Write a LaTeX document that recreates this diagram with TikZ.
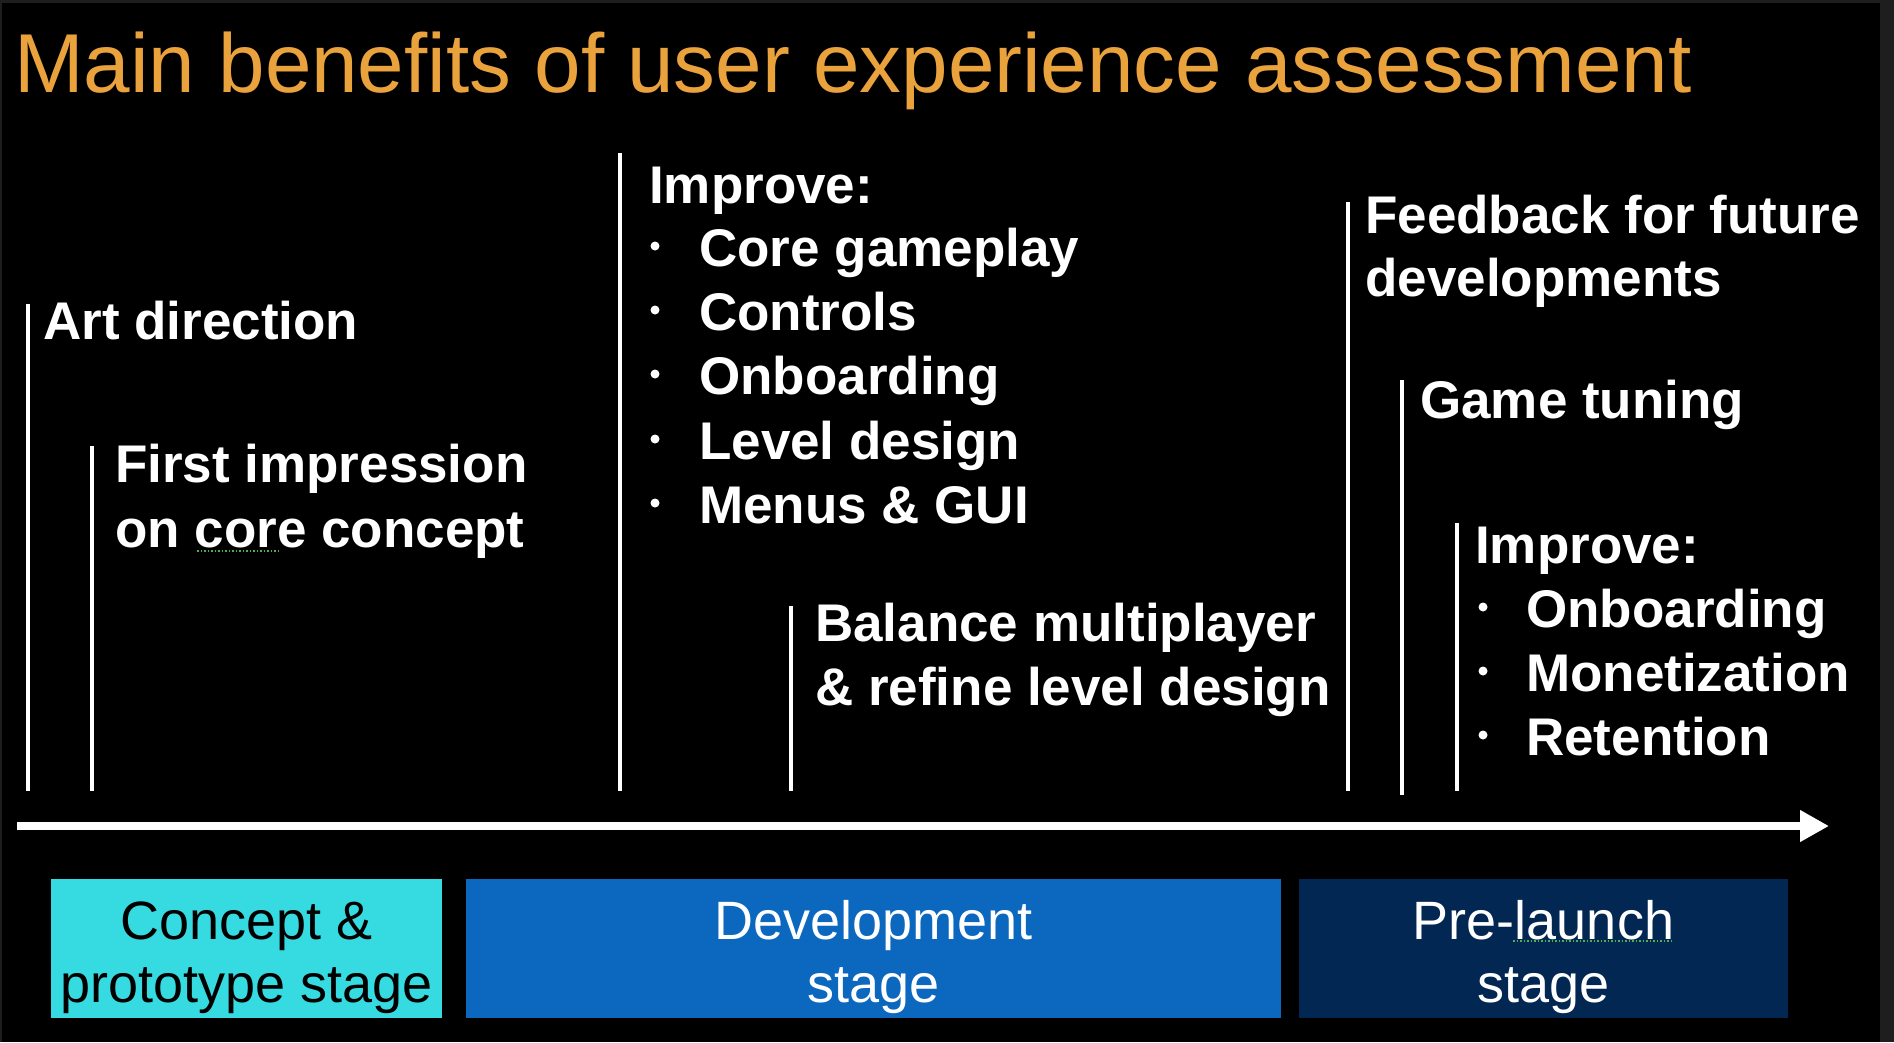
\documentclass[tikz,border=0pt]{standalone}
\usepackage{fontspec}
\setmainfont{Liberation Sans}
\usetikzlibrary{arrows.meta}
\definecolor{titleorange}{HTML}{EAA23D}
\definecolor{stagecyan}{HTML}{36DBE1}
\definecolor{stageblue}{HTML}{0C68BF}
\definecolor{stagenavy}{HTML}{022752}
\definecolor{framegray}{HTML}{1E1E1E}
\definecolor{spellgreen}{HTML}{4CAF50}
\begin{document}
\begin{tikzpicture}[x=1pt,y=-1pt,
  lbl/.style={anchor=base west, inner sep=0pt, text=white, font=\fontsize{53}{64}\selectfont\bfseries},
  bulletdot/.style={circle, fill=white, draw=none, inner sep=0pt, minimum size=9pt},
  stagetxt/.style={anchor=base, inner sep=0pt, font=\fontsize{54}{65}\selectfont},
  tick/.style={draw=white, line width=4pt},
  stagebox/.style={draw=none, inner sep=0pt, minimum height=139pt, anchor=north west},
  spell/.style={draw=spellgreen, line width=1.5pt, dotted}]
\fill[framegray] (0,0) rectangle (1894,1042);
\fill[black] (2,3) rectangle (1880,1042);
\useasboundingbox (0,0) rectangle (1894,1042);

% title
\node[anchor=base west, inner sep=0pt, text=titleorange, font=\fontsize{83.6}{100}\selectfont] (title) at (14,92) {Main benefits of user experience assessment};

% vertical markers
\coordinate (v1t) at (28,304);   \coordinate (v1b) at (28,791);
\coordinate (v2t) at (92,446);   \coordinate (v2b) at (92,791);
\coordinate (v3t) at (620,153);  \coordinate (v3b) at (620,791);
\coordinate (v4t) at (791,606);  \coordinate (v4b) at (791,791);
\coordinate (v5t) at (1348,202); \coordinate (v5b) at (1348,791);
\coordinate (v6t) at (1402,380); \coordinate (v6b) at (1402,795);
\coordinate (v7t) at (1457,523); \coordinate (v7b) at (1457,791);
\foreach \i in {1,...,7} {\draw[tick] (v\i t) -- (v\i b);}

% labels
\node[lbl] (art) at (43,339) {Art direction};
\node[lbl] (fi1) at (115,482) {First impression};
\node[lbl] (fi2) at (115,547) {on core concept};
\draw[spell] (197,551) -- (278,551);

\node[lbl] (imp1) at (649,203) {Improve:};
\node[bulletdot] (b11) at (655,246) {}; \node[lbl] (i11) at (699,266) {Core gameplay};
\node[bulletdot] (b12) at (655,310) {}; \node[lbl] (i12) at (699,330) {Controls};
\node[bulletdot] (b13) at (655,374) {}; \node[lbl] (i13) at (699,394) {Onboarding};
\node[bulletdot] (b14) at (655,439) {}; \node[lbl] (i14) at (699,459) {Level design};
\node[bulletdot] (b15) at (655,503) {}; \node[lbl] (i15) at (699,523) {Menus \& GUI};

\node[lbl] (bal1) at (815,641) {Balance multiplayer};
\node[lbl] (bal2) at (815,705) {\& refine level design};

\node[lbl] (fb1) at (1365,233) {Feedback for future};
\node[lbl] (fb2) at (1365,296) {developments};
\node[lbl] (gt) at (1420,418) {Game tuning};

\node[lbl] (imp2) at (1475,563) {Improve:};
\node[bulletdot] (b21) at (1483,607) {}; \node[lbl] (i21) at (1526,627) {Onboarding};
\node[bulletdot] (b22) at (1483,671) {}; \node[lbl] (i22) at (1526,691) {Monetization};
\node[bulletdot] (b23) at (1483,735) {}; \node[lbl] (i23) at (1526,755) {Retention};

% timeline
\coordinate (tl0) at (17,826);
\coordinate (tl1) at (1829,826);
\draw[white, line width=8pt, -{Triangle[length=29pt,width=30pt]}] (tl0) -- (tl1);

% stages
\node[stagebox, fill=stagecyan, minimum width=391pt] (s1) at (51,879) {};
\node[stagebox, fill=stageblue, minimum width=815pt] (s2) at (466,879) {};
\node[stagebox, fill=stagenavy, minimum width=489pt] (s3) at (1299,879) {};

\node[stagetxt, text=black] (s1a) at (246.5,939) {Concept \&};
\node[stagetxt, text=black] (s1b) at (246.5,1002) {prototype stage};
\node[stagetxt, text=white] (s2a) at (873.5,939) {Development};
\node[stagetxt, text=white] (s2b) at (873.5,1002) {stage};
\node[stagetxt, text=white] (s3a) at (1543.5,939) {Pre-launch};
\node[stagetxt, text=white] (s3b) at (1543.5,1002) {stage};
\draw[spell] (1513,941) -- (1671,941);
\end{tikzpicture}
\end{document}
